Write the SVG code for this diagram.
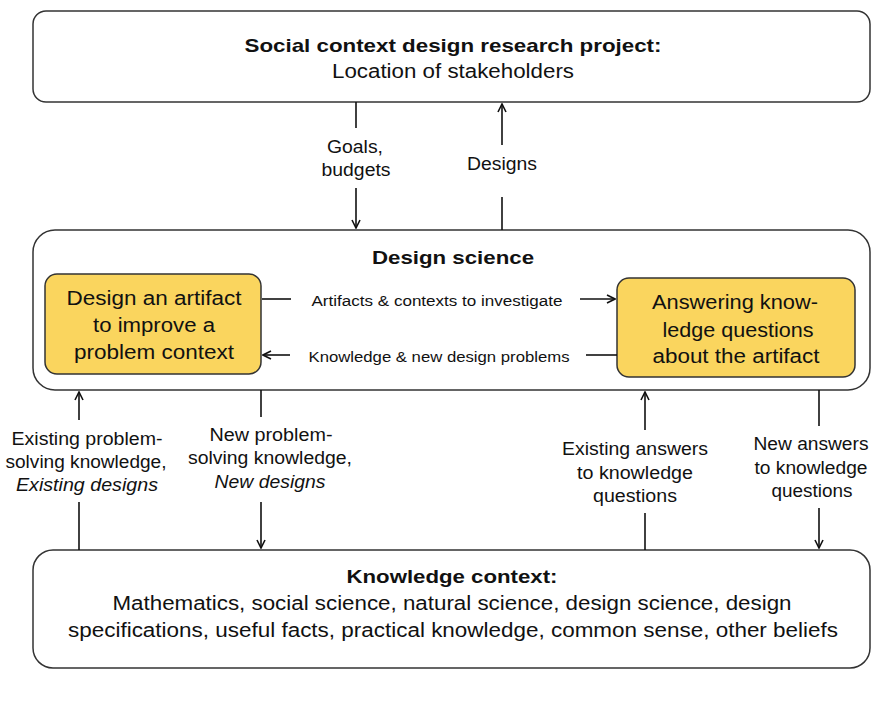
<svg xmlns="http://www.w3.org/2000/svg" width="873" height="718" viewBox="0 0 873 718">
<style>
.box{fill:#fff;stroke:#333;stroke-width:1.5}
.ybox{fill:#FAD55E;stroke:#333;stroke-width:1.5}
.ln{stroke:#111;stroke-width:1.6;fill:none}
text{font-family:"Liberation Sans",Arial,sans-serif;fill:#111;text-anchor:middle}
.t{font-size:19.5px}
.b{font-size:19px;font-weight:bold}
.l{font-size:17.5px}
.s{font-size:15.5px}
.i{font-style:italic}
</style>
<defs>
<marker id="ah" viewBox="0 0 10 10" refX="9" refY="5" markerWidth="10" markerHeight="10" markerUnits="userSpaceOnUse" orient="auto">
<path d="M1,1 L9,5 L1,9" fill="none" stroke="#111" stroke-width="1.6"/>
</marker>
</defs>
<g id="social">
<rect class="box" x="33" y="11" width="837" height="91" rx="13"/>
<text class="b" x="453" y="52" textLength="417" lengthAdjust="spacingAndGlyphs">Social context design research project:</text>
<text class="t" x="453" y="78" textLength="242" lengthAdjust="spacingAndGlyphs">Location of stakeholders</text>
</g>
<g id="design-science">
<rect class="box" x="33" y="230" width="837" height="160" rx="22"/>
<text class="b" x="453" y="264" textLength="162" lengthAdjust="spacingAndGlyphs">Design science</text>
</g>
<g id="design-artifact">
<rect class="ybox" x="45" y="274" width="216" height="100" rx="12"/>
<text class="t" x="154" y="305" textLength="175" lengthAdjust="spacingAndGlyphs">Design an artifact</text>
<text class="t" x="154" y="332" textLength="122" lengthAdjust="spacingAndGlyphs">to improve a</text>
<text class="t" x="154" y="359" textLength="160" lengthAdjust="spacingAndGlyphs">problem context</text>
</g>
<g id="answering">
<rect class="ybox" x="617" y="278" width="238" height="99" rx="12"/>
<text class="t" x="735" y="309" textLength="166" lengthAdjust="spacingAndGlyphs">Answering know-</text>
<text class="t" x="738" y="337" textLength="151" lengthAdjust="spacingAndGlyphs">ledge questions</text>
<text class="t" x="736" y="363" textLength="167" lengthAdjust="spacingAndGlyphs">about the artifact</text>
</g>
<g id="knowledge">
<rect class="box" x="33" y="550" width="837" height="118" rx="20"/>
<text class="b" x="452" y="583" textLength="211" lengthAdjust="spacingAndGlyphs">Knowledge context:</text>
<text class="t" x="452" y="610" textLength="679" lengthAdjust="spacingAndGlyphs">Mathematics, social science, natural science, design science, design</text>
<text class="t" x="453" y="637" textLength="770" lengthAdjust="spacingAndGlyphs">specifications, useful facts, practical knowledge, common sense, other beliefs</text>
</g>
<g id="connectors">
<line class="ln" x1="356" y1="102" x2="356" y2="128"/>
<line class="ln" x1="356" y1="188" x2="356" y2="228" marker-end="url(#ah)"/>
<text class="l" x="355" y="153" textLength="56" lengthAdjust="spacingAndGlyphs">Goals,</text>
<text class="l" x="356" y="176" textLength="69" lengthAdjust="spacingAndGlyphs">budgets</text>
<line class="ln" x1="502" y1="230" x2="502" y2="197"/>
<line class="ln" x1="502" y1="145" x2="502" y2="104" marker-end="url(#ah)"/>
<text class="l" x="502" y="170" textLength="70" lengthAdjust="spacingAndGlyphs">Designs</text>

<line class="ln" x1="262" y1="299" x2="291" y2="299"/>
<line class="ln" x1="580" y1="299" x2="615" y2="299" marker-end="url(#ah)"/>
<text class="s" x="437" y="306" textLength="251" lengthAdjust="spacingAndGlyphs">Artifacts &amp; contexts  to investigate</text>
<line class="ln" x1="617" y1="355" x2="586" y2="355"/>
<line class="ln" x1="290" y1="355" x2="263" y2="355" marker-end="url(#ah)"/>
<text class="s" x="439" y="362" textLength="261" lengthAdjust="spacingAndGlyphs">Knowledge &amp; new design problems</text>

<line class="ln" x1="79" y1="550" x2="79" y2="502"/>
<line class="ln" x1="79" y1="420" x2="79" y2="392" marker-end="url(#ah)"/>
<text class="l" x="87" y="445" textLength="151" lengthAdjust="spacingAndGlyphs">Existing problem-</text>
<text class="l" x="86" y="468" textLength="161" lengthAdjust="spacingAndGlyphs">solving knowledge,</text>
<text class="l i" x="87" y="491" textLength="142" lengthAdjust="spacingAndGlyphs">Existing designs</text>

<line class="ln" x1="261" y1="390" x2="261" y2="417"/>
<line class="ln" x1="261" y1="502" x2="261" y2="548" marker-end="url(#ah)"/>
<text class="l" x="271" y="441" textLength="123" lengthAdjust="spacingAndGlyphs">New problem-</text>
<text class="l" x="270" y="464" textLength="164" lengthAdjust="spacingAndGlyphs">solving knowledge,</text>
<text class="l i" x="270" y="488" textLength="111" lengthAdjust="spacingAndGlyphs">New designs</text>

<line class="ln" x1="645" y1="550" x2="645" y2="513"/>
<line class="ln" x1="645" y1="430" x2="645" y2="392" marker-end="url(#ah)"/>
<text class="l" x="635" y="455" textLength="146" lengthAdjust="spacingAndGlyphs">Existing answers</text>
<text class="l" x="635" y="479" textLength="116" lengthAdjust="spacingAndGlyphs">to knowledge</text>
<text class="l" x="635" y="502" textLength="84" lengthAdjust="spacingAndGlyphs">questions</text>

<line class="ln" x1="819" y1="390" x2="819" y2="426"/>
<line class="ln" x1="819" y1="508" x2="819" y2="548" marker-end="url(#ah)"/>
<text class="l" x="811" y="450" textLength="115" lengthAdjust="spacingAndGlyphs">New answers</text>
<text class="l" x="811" y="474" textLength="113" lengthAdjust="spacingAndGlyphs">to knowledge</text>
<text class="l" x="812" y="497" textLength="81" lengthAdjust="spacingAndGlyphs">questions</text>
</g>
</svg>
